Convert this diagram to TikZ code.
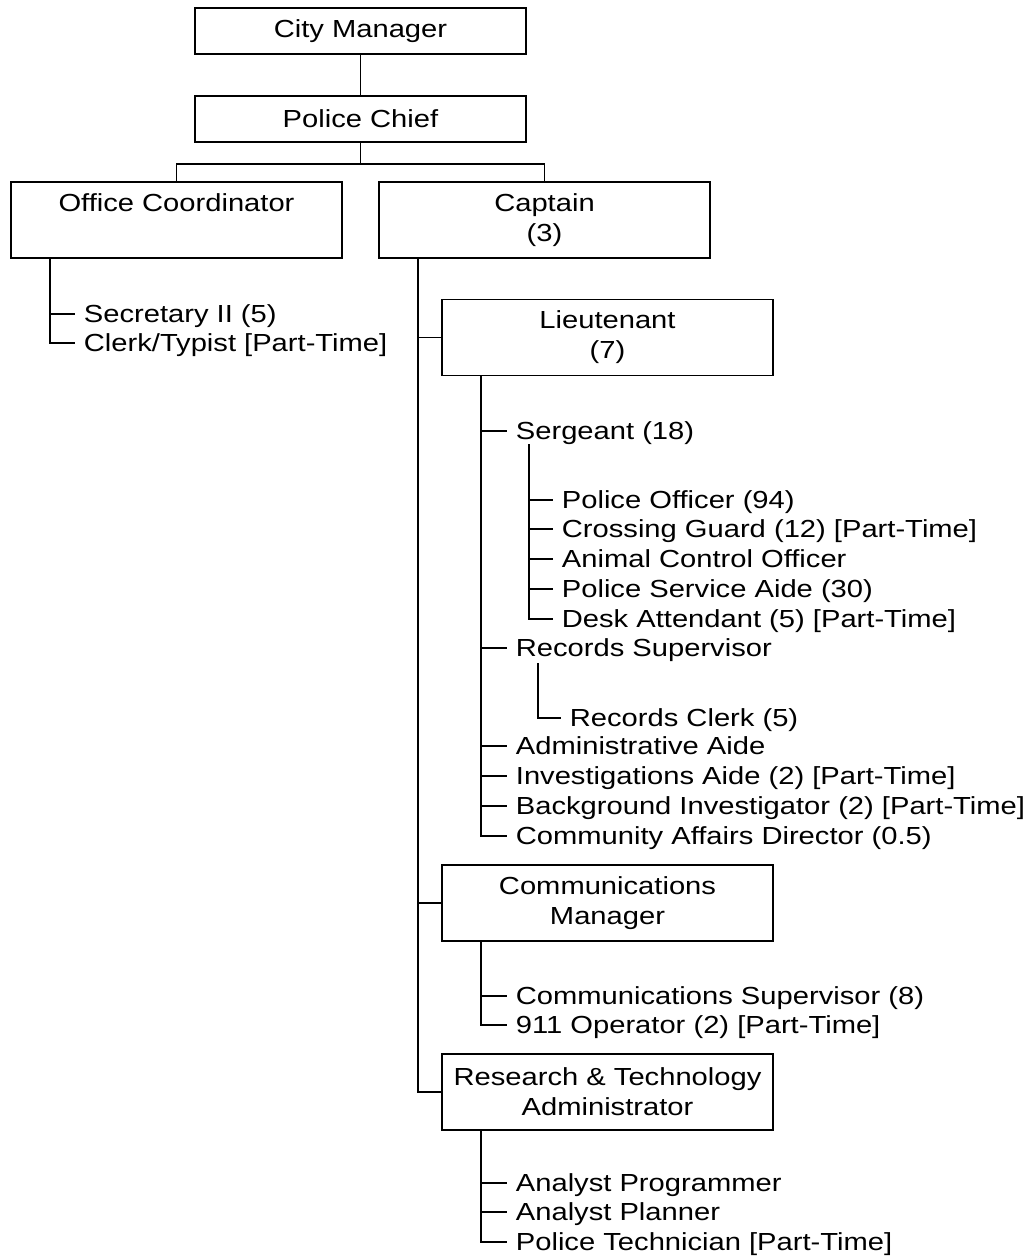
\documentclass[tikz,border=0pt]{standalone}
\usepackage{fontspec}
\setmainfont{Liberation Sans}[FakeStretch=1.18]
\begin{document}
\begin{tikzpicture}[x=1pt,y=-1pt,
  line width=1.8pt,
  orgbox/.style={draw, line width=1.8pt, minimum width=331pt, inner sep=0pt,
    align=center, font=\fontsize{24.7}{30}\selectfont},
  smallbox/.style={orgbox, minimum height=46pt},
  tallbox/.style={orgbox, minimum height=76pt},
  item/.style={anchor=west, inner xsep=8pt, inner ysep=0pt, text height=17.7pt,
    text depth=0pt, font=\fontsize{24.7}{30}\selectfont}]
\useasboundingbox (0,0) rectangle (1027,1259);

% top boxes
\node[smallbox] (cm) at (360.5,31) {City Manager};
\node[smallbox] (pc) at (360.5,119) {Police Chief};
\node[tallbox] (oc) at (176.5,220) {Office Coordinator\\\phantom{(3)}};
\node[tallbox] (cap) at (544.5,220) {Captain\\(3)};

\draw (cm.south) -- (pc.north);
\draw (pc.south) -- ++(0,21) -| (oc.north);
\draw (pc.south) -- ++(0,21) -| (cap.north);

% office coordinator staff
\coordinate (ocs) at ([xshift=40pt]oc.south west);
\node[item] (sec) at (75,314) {Secretary II (5)};
\node[item] (clk) at (75,343) {Clerk/Typist [Part-Time]};
\draw (ocs) |- (sec.west);
\draw (ocs) |- (clk.west);

% captain branch boxes
\coordinate (caps) at ([xshift=40pt]cap.south west);
\node[tallbox] (lt) at (607.5,337.5) {Lieutenant\\(7)};
\node[tallbox] (com) at (607.5,903) {Communications\\Manager};
\node[tallbox] (rt) at (607.5,1092) {Research \& Technology\\Administrator};
\draw (caps) |- (lt.west);
\draw (caps) |- (com.west);
\draw (caps) |- (rt.west);

% lieutenant staff
\coordinate (lts) at ([xshift=40pt]lt.south west);
\node[item] (sg)  at (507,431) {Sergeant (18)};
\node[item] (rs)  at (507,648) {Records Supervisor};
\node[item] (aa)  at (507,746) {Administrative Aide};
\node[item] (ia)  at (507,776) {Investigations Aide (2) [Part-Time]};
\node[item] (bi)  at (507,806) {Background Investigator (2) [Part-Time]};
\node[item] (cad) at (507,836) {Community Affairs Director (0.5)};
\foreach \n in {sg,rs,aa,ia,bi,cad} \draw (lts) |- (\n.west);

% sergeant staff
\coordinate (sgs) at (529,444);
\node[item] (po)  at (553,500) {Police Officer (94)};
\node[item] (cg)  at (553,529) {Crossing Guard (12) [Part-Time]};
\node[item] (aco) at (553,559) {Animal Control Officer};
\node[item] (psa) at (553,589) {Police Service Aide (30)};
\node[item] (da)  at (553,619) {Desk Attendant (5) [Part-Time]};
\foreach \n in {po,cg,aco,psa,da} \draw (sgs) |- (\n.west);

% records staff
\coordinate (rss) at (538,663);
\node[item] (rc) at (561,718) {Records Clerk (5)};
\draw (rss) |- (rc.west);

% communications staff
\coordinate (coms) at ([xshift=40pt]com.south west);
\node[item] (cs) at (507,996) {Communications Supervisor (8)};
\node[item] (op) at (507,1025) {911 Operator (2) [Part-Time]};
\draw (coms) |- (cs.west);
\draw (coms) |- (op.west);

% research & technology staff
\coordinate (rts) at ([xshift=40pt]rt.south west);
\node[item] (ap) at (507,1183) {Analyst Programmer};
\node[item] (apl) at (507,1212) {Analyst Planner};
\node[item] (pt) at (507,1242) {Police Technician [Part-Time]};
\draw (rts) |- (ap.west);
\draw (rts) |- (apl.west);
\draw (rts) |- (pt.west);
\end{tikzpicture}
\end{document}
